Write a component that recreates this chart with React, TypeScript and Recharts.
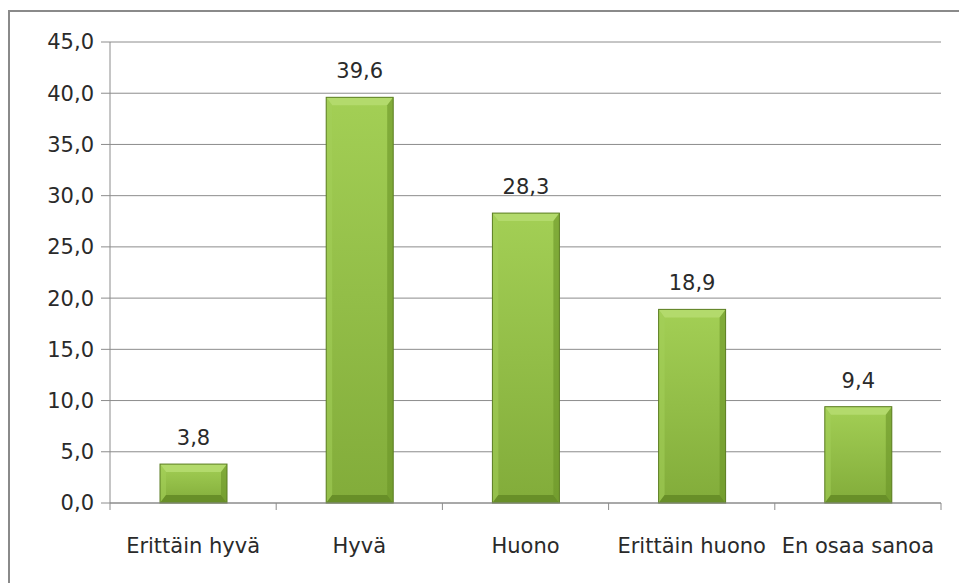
import React from 'react'
import {
  BarChart,
  Bar,
  XAxis,
  YAxis,
  CartesianGrid,
  LabelList
} from 'recharts'

const categories: string[] = [
  'Erittäin hyvä',
  'Hyvä',
  'Huono',
  'Erittäin huono',
  'En osaa sanoa'
]
const shares: number[] = [3.8, 39.6, 28.3, 18.9, 9.4]
const yTicks: number[] = [0, 5, 10, 15, 20, 25, 30, 35, 40, 45]

const data = categories.map((name, i) => ({ name, value: shares[i] }))

const W = 951
const H = 573
const margin = { top: 32, right: 18, left: 0, bottom: 20 }
const yAxisWidth = 102
const band = (W - margin.left - margin.right - yAxisWidth) / categories.length
const gray = '#8c8c8c'
const textColor = '#2a2a2a'
const font = '"DejaVu Sans", sans-serif'

const fmt = (v: number) => v.toFixed(1).replace('.', ',')

const CategoryTick = (props: any) => {
  const { x, y, payload, index } = props
  const half = band / 2
  return (
    <g>
      <line x1={x - half} x2={x - half} y1={y - 7} y2={y} stroke={gray} />
      {index === categories.length - 1 && (
        <line x1={x + half} x2={x + half} y1={y - 7} y2={y} stroke={gray} />
      )}
      <text
        x={x}
        y={y + 43}
        textAnchor="middle"
        fill={textColor}
        fontSize={21}
        fontFamily={font}
      >
        {payload.value}
      </text>
    </g>
  )
}

// bevelled bar like the old Excel preset
const BevelBar = (props: any) => {
  const { x, y, width, height } = props
  if (!height || height <= 0) return null
  const b = Math.min(8, height / 3)
  const s = Math.min(6, width / 4)
  const r = x + width
  const btm = y + height
  return (
    <g>
      <rect x={x} y={y} width={width} height={height} fill="url(#barBody)" />
      <polygon
        points={`${x},${y} ${r},${y} ${r - s},${y + b} ${x + s},${y + b}`}
        fill="#b3da6c"
      />
      <polygon
        points={`${x},${y} ${x + s},${y + b} ${x + s},${btm - b} ${x},${btm}`}
        fill="#a4d05a"
        opacity={0.55}
      />
      <polygon
        points={`${r},${y} ${r - s},${y + b} ${r - s},${btm - b} ${r},${btm}`}
        fill="#6a9428"
        opacity={0.6}
      />
      <polygon
        points={`${x},${btm} ${x + s},${btm - b} ${r - s},${btm - b} ${r},${btm}`}
        fill="#688f28"
      />
      <rect
        x={x}
        y={y}
        width={width}
        height={height}
        fill="none"
        stroke="#5b7d22"
        strokeWidth={1}
      />
    </g>
  )
}

const App = () => {
  return (
    <div
      style={{
        position: 'absolute',
        left: 0,
        top: 0,
        width: 959,
        height: 583,
        overflow: 'hidden',
        background: '#fff'
      }}
    >
      <div
        style={{
          position: 'absolute',
          left: 8,
          top: 10,
          width: 980,
          height: 600,
          borderLeft: '2px solid #8a8a8a',
          borderTop: '2px solid #8a8a8a',
          boxSizing: 'border-box'
        }}
      />
      <div style={{ position: 'absolute', left: 8, top: 10 }}>
        <BarChart width={W} height={H} data={data} margin={margin}>
          <defs>
            <linearGradient id="barBody" x1="0" y1="0" x2="0" y2="1">
              <stop offset="0%" stopColor="#a3cf55" />
              <stop offset="100%" stopColor="#82ac3a" />
            </linearGradient>
          </defs>
          <CartesianGrid vertical={false} stroke={gray} />
          <XAxis
            dataKey="name"
            axisLine={{ stroke: gray }}
            tickLine={false}
            tickSize={7}
            tickMargin={0}
            height={60}
            interval={0}
            tick={<CategoryTick />}
          />
          <YAxis
            domain={[0, 45]}
            ticks={yTicks}
            width={yAxisWidth}
            axisLine={{ stroke: gray }}
            tickLine={{ stroke: gray }}
            tickSize={9}
            tickMargin={7}
            tickFormatter={fmt}
            tick={{ fill: textColor, fontSize: 21, fontFamily: font }}
          />
          <Bar
            dataKey="value"
            barSize={67}
            shape={<BevelBar />}
            isAnimationActive={false}
          >
            <LabelList
              dataKey="value"
              position="top"
              offset={19}
              formatter={(v: any) => fmt(Number(v))}
              fill={textColor}
              fontSize={21}
              fontFamily={font}
            />
          </Bar>
        </BarChart>
      </div>
    </div>
  )
}

export default App
